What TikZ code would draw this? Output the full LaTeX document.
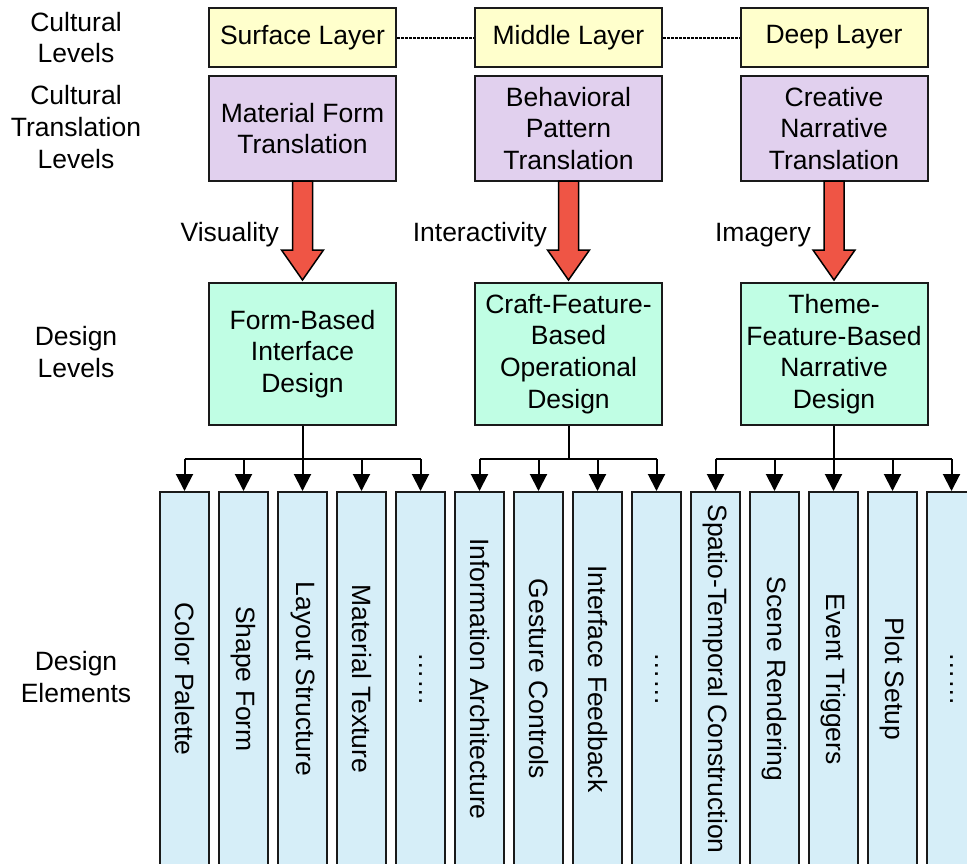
\documentclass[tikz,border=0pt]{standalone}
\usepackage{fontspec}
\setmainfont{Liberation Sans}
\usetikzlibrary{arrows.meta,calc}
\definecolor{ylw}{HTML}{FFFFCC}
\definecolor{prp}{HTML}{E1D0EE}
\definecolor{grn}{HTML}{C0FEE4}
\definecolor{blu}{HTML}{D6EEF8}
\definecolor{arr}{HTML}{EF5545}
\definecolor{edge}{HTML}{1A1A1A}
\begin{document}
\begin{tikzpicture}[x=1pt,y=-1pt,
  every node/.style={font=\fontsize{26.5}{31.7}\selectfont, inner sep=0pt},
  box/.style={draw=edge, line width=2pt, minimum width=187pt, align=center},
  ybox/.style={box, fill=ylw, minimum height=59pt},
  pbox/.style={box, fill=prp, minimum height=105pt},
  gbox/.style={box, fill=grn, minimum height=142pt},
  ebox/.style={draw=edge, line width=2pt, fill=blu, rotate=-90,
     minimum width=374pt, minimum height=49pt},
  lbl/.style={align=center},
  redarrow/.style={draw=black, fill=arr, line width=1.5pt, line join=miter},
  tree/.style={draw=black, line width=2pt},
  treearrow/.style={tree, -{Triangle[length=17pt,width=17pt]}},
  dotline/.style={draw=black, line width=2pt, dash pattern=on 2.5pt off 1.5pt}
]
\useasboundingbox (0,0) rectangle (967,863);
\clip (0,0) rectangle (967,863);

% left labels
\node[lbl] (l1) at (76,37.5) {Cultural\\Levels};
\node[lbl] (l2) at (76,127) {Cultural\\Translation\\Levels};
\node[lbl] (l3) at (76,352) {Design\\Levels};
\node[lbl] (l4) at (76,677) {Design\\Elements};

% cultural levels
\node[ybox] (y1) at (302.5,37.5) {Surface Layer};
\node[ybox] (y2) at (568.5,37.5) {Middle Layer};
\node[ybox] (y3) at (834,37.5) {Deep Layer};
\draw[dotline] (y1.east) -- (y2.west);
\draw[dotline] (y2.east) -- (y3.west);

% translation levels
\node[pbox] (p1) at (302.5,128.5) {Material Form\\Translation};
\node[pbox] (p2) at (568.5,128.5) {Behavioral\\Pattern\\Translation};
\node[pbox] (p3) at (834,128.5) {Creative\\Narrative\\Translation};

% design levels
\node[gbox] (g1) at (302.5,354) {Form-Based\\Interface\\Design};
\node[gbox] (g2) at (568.5,354) {Craft-Feature-\\Based\\Operational\\Design};
\node[gbox] (g3) at (834,354) {Theme-\\Feature-Based\\Narrative\\Design};

% red arrows
\foreach \k in {1,2,3}{
  \draw[redarrow] ($(p\k.south)+(-10,-1)$) -- ($(g\k.north)+(-10,-32)$)
     -- ($(g\k.north)+(-21,-32)$) -- ($(g\k.north)+(0,-2)$)
     -- ($(g\k.north)+(21,-32)$) -- ($(g\k.north)+(10,-32)$)
     -- ($(p\k.south)+(10,-1)$) -- cycle;
}
\node[anchor=base east] (t1) at (279,241) {Visuality};
\node[anchor=base east] (t2) at (547,241) {Interactivity};
\node[anchor=base east] (t3) at (811,241) {Imagery};

% design elements
\node[ebox] (e1) at (184.5,679) {Color Palette};
\node[ebox] (e2) at (243.5,679) {Shape Form};
\node[ebox] (e3) at (302.5,679) {Layout Structure};
\node[ebox] (e4) at (361.5,679) {Material Texture};
\node[ebox] (e5) at (420.5,679) {……};
\node[ebox] (e6) at (479.5,679) {Information Architecture};
\node[ebox] (e7) at (538.5,679) {Gesture Controls};
\node[ebox] (e8) at (597.5,679) {Interface Feedback};
\node[ebox] (e9) at (656.5,679) {……};
\node[ebox] (e10) at (715.5,679) {Spatio-Temporal Construction};
\node[ebox] (e11) at (774.5,679) {Scene Rendering};
\node[ebox] (e12) at (833.5,679) {Event Triggers};
\node[ebox] (e13) at (892.5,679) {Plot Setup};
\node[ebox] (e14) at (951.5,679) {……};

% trees
\coordinate (b1) at (302.5,459);
\coordinate (b2) at (568.5,459);
\coordinate (b3) at (834,459);
\draw[tree] (g1.south) -- (b1);
\draw[tree] (g2.south) -- (b2);
\draw[tree] (g3.south) -- (b3);
\draw[tree] (e1.west |- b1) -- (e5.west |- b1);
\draw[tree] (e6.west |- b2) -- (e9.west |- b2);
\draw[tree] (e10.west |- b3) -- (e14.west |- b3);
\foreach \i/\b in {1/b1,2/b1,3/b1,4/b1,5/b1,6/b2,7/b2,8/b2,9/b2,10/b3,11/b3,12/b3,13/b3,14/b3}{
  \draw[treearrow] (e\i.west |- \b) -- (e\i.west);
}
\end{tikzpicture}
\end{document}
